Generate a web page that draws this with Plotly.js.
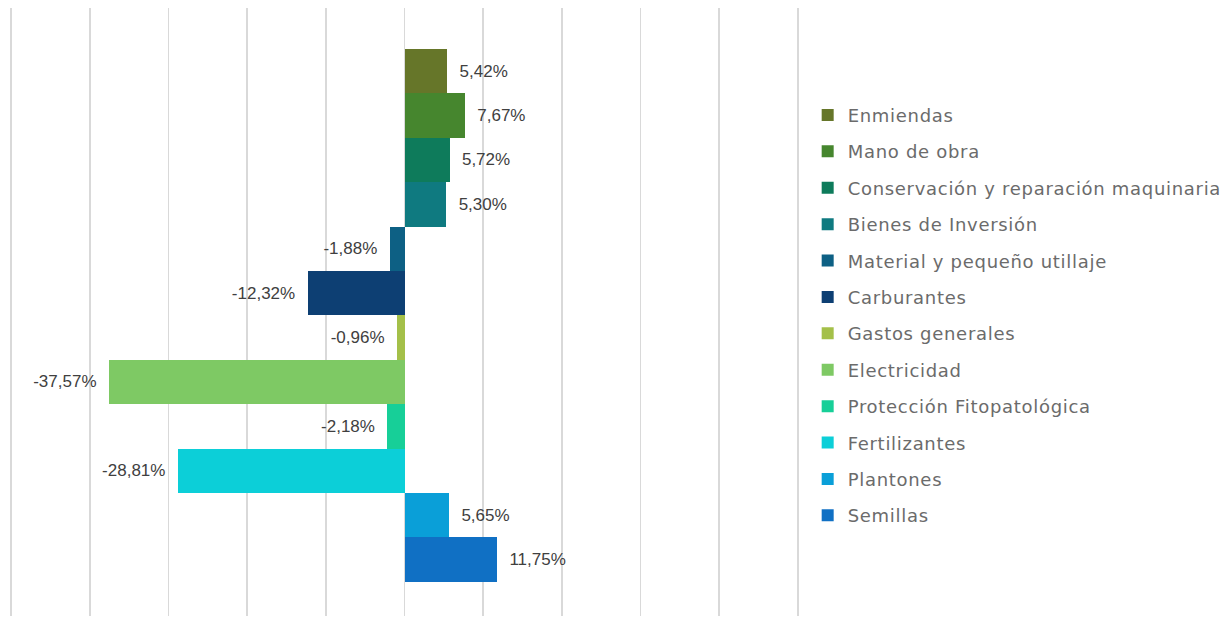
<!DOCTYPE html>
<html>
<head>
<meta charset="utf-8">
<script src="https://cdn.plot.ly/plotly-3.0.1.min.js"></script>
<style>html,body{margin:0;padding:0;background:#fff;}#chart{width:1225px;height:618px;}
.legendtext{letter-spacing:0.7px;}</style>
</head>
<body>
<div id="chart"></div>
<script>
var categories = ["Enmiendas","Mano de obra","Conservación y reparación maquinaria","Bienes de Inversión","Material y pequeño utillaje","Carburantes","Gastos generales","Electricidad","Protección Fitopatológica","Fertilizantes","Plantones","Semillas"];
var values = [5.42, 7.67, 5.72, 5.30, -1.88, -12.32, -0.96, -37.57, -2.18, -28.81, 5.65, 11.75];
var colors = ["#667629","#46862e","#0e7b5b","#0f7a80","#0d6084","#0d3f73","#a4c049","#7ec964","#17cf98","#0ccfd8","#0a9fd8","#1070c4"];
var xTicks = [-50,-40,-30,-20,-10,0,10,20,30,40,50];

var NB = "\u00a0\u00a0";
var traces = categories.map(function(c, i){
  var neg = values[i] < 0;
  return {
    type: "bar",
    orientation: "h",
    name: c,
    y: [c],
    x: [values[i]],
    marker: {color: colors[i]},
    legendgroup: "g" + i,
    texttemplate: neg ? "%{x:.2f}%" + NB : NB + "%{x:.2f}%",
    textposition: "outside",
    textfont: {family: "Liberation Sans, Arial, sans-serif", size: 17, color: "#404040"},
    cliponaxis: false,
    hoverinfo: "name+x"
  };
});

var layout = {
  width: 1225, height: 618,
  margin: {l: 10, r: 426, t: 8, b: 2, autoexpand: false},
  paper_bgcolor: "#ffffff", plot_bgcolor: "#ffffff",
  separators: ",.",
  barmode: "overlay",
  bargap: 0,
  showlegend: true,
  xaxis: {
    range: [-50.15, 50.15], tickvals: xTicks, showticklabels: false,
    showgrid: true, gridcolor: "#d9d9d9", gridwidth: 1.5,
    zeroline: false, showline: false, ticks: "", fixedrange: true
  },
  yaxis: {
    type: "category", categoryorder: "array", categoryarray: categories,
    range: [12.27, -1.42], showticklabels: false, showgrid: false,
    zeroline: false, showline: false, ticks: ""
  },
  legend: {
    x: 1.011, xanchor: "left", y: 0.854, yanchor: "top",
    traceorder: "grouped", tracegroupgap: 10,
    font: {family: "DejaVu Sans, sans-serif", size: 18, color: "#6b6b6b"},
    bgcolor: "rgba(0,0,0,0)"
  }
};

Plotly.newPlot("chart", traces, layout, {displayModeBar: false, staticPlot: true});
</script>
</body>
</html>
